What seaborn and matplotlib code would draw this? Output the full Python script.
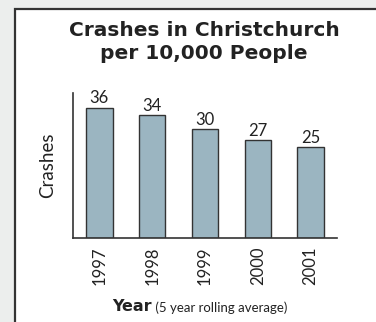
import matplotlib
matplotlib.use("Agg")
import matplotlib.pyplot as plt
import seaborn as sns
import pandas as pd
from matplotlib.patches import Rectangle

years = ["1997", "1998", "1999", "2000", "2001"]
crashes = [36, 34, 30, 27, 25]

title = "Crashes in Christchurch\nper 10,000 People"
ylabel = "Crashes"
xlabel_main = "Year"
xlabel_note = " (5 year rolling average)"

sns.set_theme(style="white")
plt.rcParams['font.family'] = ['Lato', 'DejaVu Sans']

df = pd.DataFrame({"year": years, "crashes": crashes})

fig = plt.figure(figsize=(3.76, 3.22), dpi=100)
fig.patch.set_facecolor("#eceeed")
panel = Rectangle((15/376, -0.1), 1.2, 1 - 9/322 + 0.1, transform=fig.transFigure,
                  facecolor="white", edgecolor="#333333", linewidth=1.6, zorder=-10)
fig.patches.append(panel)

ax = fig.add_axes([73/376, 1 - 238/322, (337-73)/376, (238-93)/322])
ax.set_facecolor("none")
sns.barplot(data=df, x="year", y="crashes", color="#9bb5c1", saturation=1,
            width=0.5, edgecolor="#333333", linewidth=1.0, ax=ax)
ax.set_xlim(-0.5, 4.5)
ax.set_ylim(0, 40)
for i, v in enumerate(crashes):
    ax.text(i, v + 0.3, str(v), ha="center", va="bottom", fontsize=12,
            fontweight="normal", color="#222222")
ax.set_yticks([])
ax.set_xticks(range(len(years)))
ax.set_xticklabels(years, rotation=90, fontsize=12, fontweight="normal", color="#222222")
ax.tick_params(axis="x", length=0, pad=6)
for s in ["top", "right"]:
    ax.spines[s].set_visible(False)
for s in ["left", "bottom"]:
    ax.spines[s].set_color("#333333")
    ax.spines[s].set_linewidth(1.2)
ax.set_xlabel("")
ax.set_ylabel(ylabel, fontsize=13.5, color="#222222", labelpad=12)

fig.text(204/376, 1 - 42/322, title, ha="center", va="center", fontsize=14.5,
         fontweight="bold", color="#222222", linespacing=1.3,
         family=["DejaVu Sans"])

t1 = fig.text(112/376, 1 - 311/322, xlabel_main, ha="left", va="baseline",
              fontsize=11.5, fontweight="bold", color="#222222", family=["DejaVu Sans"])
ax.annotate(xlabel_note, xy=(1, 0), xycoords=t1, va="bottom", ha="left",
            fontsize=9.5, color="#222222", annotation_clip=False)

fig.savefig("out.png", dpi=100, facecolor=fig.get_facecolor())
